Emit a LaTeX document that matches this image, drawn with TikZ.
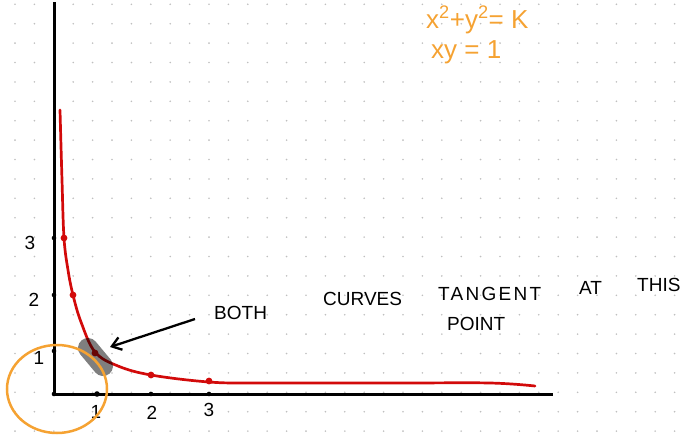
\documentclass[tikz,border=0pt]{standalone}
\usepackage{fontspec}
\setmainfont{Liberation Sans}
\usepackage{xcolor}
\usetikzlibrary{arrows.meta,positioning,calc}
\definecolor{curvered}{RGB}{210,10,10}
\definecolor{penorange}{RGB}{245,162,50}

\begin{document}
\begin{tikzpicture}[x=1pt,y=-1pt,>={Straight Barb[length=9pt,width=13pt]},
    every node/.style={font=\fontsize{19}{21}\selectfont},
    ticklbl/.style={inner sep=1pt},
    notetxt/.style={inner sep=1pt, anchor=base west},
    eqtxt/.style={penorange, font=\fontsize{26}{28}\selectfont, inner sep=1pt, anchor=base west}]
  \useasboundingbox (0,0) rectangle (689,437);

  % dotted paper
  \foreach \i in {0,...,35}{
    \foreach \j in {0,...,22}{
      \fill[black!25] ({15+19.4*\i},{4.3+19.4*\j}) circle (0.9pt);
    }
  }

  % axes
  \coordinate (orig) at (54,394);
  \draw[line width=3pt] (54,2) -- (orig) -- (553,394);

  % ticks on the axes
  \fill (54,351) circle (2.3pt);
  \fill (54,295) circle (2.3pt);
  \fill (54,238) circle (2.3pt);
  \fill (orig) circle (2.3pt);
  \fill (97,394) circle (2.8pt);
  \fill (151,394) circle (2.3pt);
  \fill (209,394) circle (2.3pt);

  \node[ticklbl] (y1) at (39,358) {1};
  \node[ticklbl] (y2) at (34,300) {2};
  \node[ticklbl] (y3) at (30,243) {3};
  \node[ticklbl] (x1) at (96,412) {1};
  \node[ticklbl] (x2) at (152,413) {2};
  \node[ticklbl] (x3) at (209,410) {3};

  % xy = 1, drawn by hand
  \draw[curvered, line width=2.7pt, line cap=round] plot[smooth, tension=0.6]
    coordinates {(60,110) (62,180) (64,238) (68,270) (73,295) (81,322)
                 (95,352) (118,366) (151,375) (209,382) (260,383)
                 (400,383) (490,383) (535,386)};
  \foreach \p in {(64,238),(73,295),(95,353),(151,375),(209,381)}
    \fill[curvered] \p circle (3.4pt);

  % point of tangency
  \coordinate (tang) at (95,356);
  \draw[black, opacity=0.5, line width=20pt, line cap=round] (88,348) -- (103,366);

  % circle x^2+y^2=K
  \draw[penorange, line width=2.5pt] (57,389) ellipse (50 and 44);

  % note
  \node[notetxt] (both) at (213,319) {BOTH};
  \node[notetxt] (curves) at (322,305) {CURVES};
  \node[notetxt] (tangent) at (437,300) {\addfontfeature{LetterSpace=12}TANGENT};
  \node[notetxt] (at) at (578,294) {AT};
  \node[notetxt] (this) at (636,291) {THIS};
  \node[notetxt] (point) at (446,330) {POINT};
  \coordinate (tail) at (195,319);
  \draw[->, line width=2.3pt] (tail) -- (110,347);

  % equations
  \node[eqtxt] (circeq) at (425,28) {x\textsuperscript{2}+y\textsuperscript{2}= K};
  \node[eqtxt] (hypeq) at (430,58) {xy = 1};
\end{tikzpicture}
\end{document}
